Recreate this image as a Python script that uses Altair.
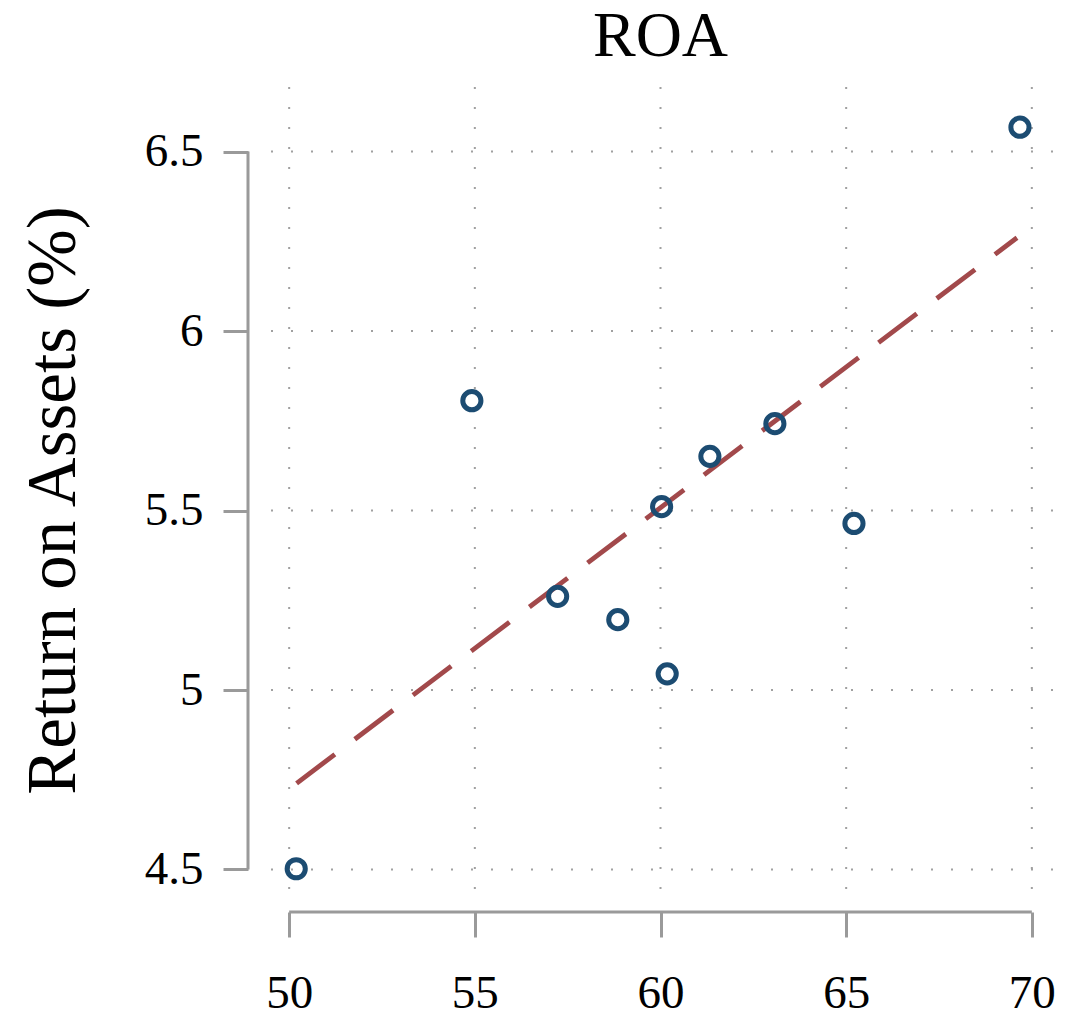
import altair as alt
import pandas as pd

# data
x_vals = [69.68, 54.92, 61.33, 63.08, 60.03, 57.23, 58.85, 60.18, 65.21, 50.19]
roa_vals = [6.568, 5.806, 5.651, 5.742, 5.511, 5.261, 5.196, 5.045, 5.464, 4.502]
fit_x = [50.2, 69.6]
fit_y = [4.74, 6.26]
x_ticks = [50, 55, 60, 65, 70]
y_ticks = [4.5, 5, 5.5, 6, 6.5]

FONT = "Liberation Serif"
AXIS_GRAY = "#9a9a9a"
GRID_GRAY = "#a0a0a0"

pts = pd.DataFrame({"x": x_vals, "roa": roa_vals})
fit = pd.DataFrame({"x": fit_x, "roa": fit_y})
xt = pd.DataFrame({"v": x_ticks})
yt = pd.DataFrame({"v": y_ticks})

xscale = alt.Scale(domain=[49.43, 70.57], nice=False, zero=False)
yscale = alt.Scale(domain=[4.44, 6.68], nice=False, zero=False)

x_axis = alt.Axis(values=x_ticks, grid=False, domain=False, offset=21, tickSize=25,
                  tickWidth=3, tickColor=AXIS_GRAY, labelPadding=33, labelFont=FONT,
                  labelFontSize=47, labelColor="black", title=None, format="~f")
y_axis = alt.Axis(values=y_ticks, grid=False, domain=False, offset=20, tickSize=25,
                  tickWidth=3, tickColor=AXIS_GRAY, labelPadding=20, labelFont=FONT,
                  labelFontSize=47, labelColor="black", format="~f",
                  title="Return on Assets (%)", titleFont=FONT, titleFontSize=69,
                  titleFontWeight="normal", titleColor="black",
                  titleBaseline="alphabetic", titleAlign="center", titleAngle=270,
                  titleX=-174, titleY=413)

vgrid = alt.Chart(xt).mark_rule(color=GRID_GRAY, strokeWidth=2, strokeDash=[2, 18]).encode(
    x=alt.X("v:Q", scale=xscale, axis=x_axis)
)
hgrid = alt.Chart(yt).mark_rule(color=GRID_GRAY, strokeWidth=2, strokeDash=[2, 18]).encode(
    y=alt.Y("v:Q", scale=yscale, axis=y_axis)
)

# R-style axis lines spanning first to last tick
yline = alt.Chart(yt).mark_rule(color=AXIS_GRAY, strokeWidth=3).encode(
    x=alt.value(-20),
    y=alt.Y("min(v):Q", scale=yscale),
    y2="max(v):Q",
)
xline = alt.Chart(xt).mark_rule(color=AXIS_GRAY, strokeWidth=3).encode(
    y=alt.value(825),
    x=alt.X("min(v):Q", scale=xscale),
    x2="max(v):Q",
)

line = alt.Chart(fit).mark_line(color="#a2494b", strokeWidth=4.8, strokeDash=[48, 25]).encode(
    x=alt.X("x:Q", scale=xscale),
    y=alt.Y("roa:Q", scale=yscale),
)

points = alt.Chart(pts).mark_point(shape="circle", filled=False, size=330, strokeWidth=5,
                                   color="#1c4c72", opacity=1).encode(
    x=alt.X("x:Q", scale=xscale),
    y=alt.Y("roa:Q", scale=yscale),
)

chart = alt.layer(vgrid, hgrid, yline, xline, line, points).properties(
    width=785,
    height=804,
    title=alt.TitleParams("ROA", font=FONT, fontSize=64, fontWeight="normal",
                          color="black", offset=17, anchor="middle"),
    autosize=alt.AutoSizeParams(type="none"),
    padding={"left": 260, "top": 79, "right": 10, "bottom": 125},
).configure(background="white").configure_view(strokeWidth=0, stroke="transparent")

chart.save("out.html", embed_options={"renderer": "svg", "actions": False})
